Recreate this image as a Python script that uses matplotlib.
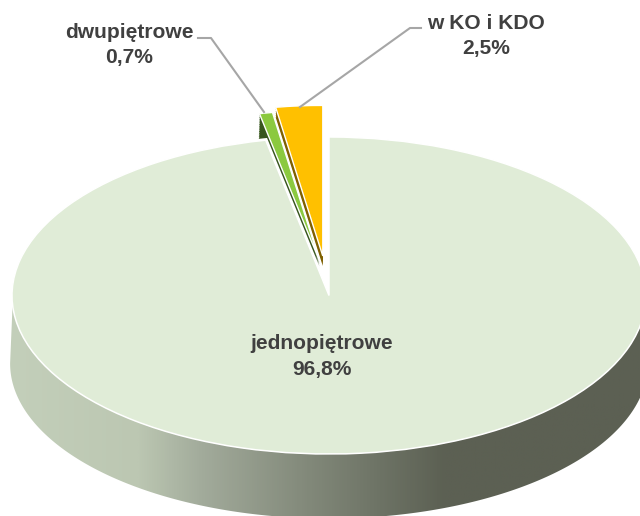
#!/usr/bin/python3

import matplotlib
matplotlib.use("Agg")
import matplotlib.pyplot as plt
import numpy as np
from matplotlib.colors import LinearSegmentedColormap
from matplotlib.patches import Polygon

labels = ["jednopiętrowe", "dwupiętrowe", "w KO i KDO"]
values = [96.8, 0.7, 2.5]
top_colors = ["#e0ecd7", "#8bc93f", "#ffc000"]
wall_colors = ["#5c6053", "#37561d", "#7f6000"]
explode = [0, 0.22, 0.25]

W, H = 640, 516
# os x: 317 px na promien, os y: 158.5 px na promien (spłaszczenie 3D)
RX, RY = 317, 158.5
CX, CY = 329, 295.5
DEPTH = 68 / RY
YELLOW_DEPTH = 10 / RY
SMALL_R = 0.95
TEXT = "#404040"
LEADER = "#a6a6a6"


def fx(x):
    return x / W


def fy(y):
    return 1 - y / H


def draw_pie(ax, colors, center=(0, 0), zorder=1, **wedgeprops):
    wedges, _ = ax.pie(values, explode=explode, colors=colors, startangle=90,
                       counterclock=False, center=center, wedgeprops=wedgeprops)
    for w in wedges[1:]:
        w.set_radius(SMALL_R)
    # zielony wycinek jest odsuniety troche inaczej niz w polowie kata
    c = wedges[1].center
    wedges[1].set_center((c[0] + 3 / RX, c[1]))
    for w in wedges:
        w.set_zorder(zorder)
    return wedges


def main():
    fig = plt.figure(figsize=(W / 100, H / 100), dpi=100)
    ax = fig.add_axes([0, 0, 1, 1])
    ax.axis("off")

    # sciany malych wycinkow, potem je przykrywa duzy wycinek
    for d in np.linspace(YELLOW_DEPTH, 0, 6):
        w = draw_pie(ax, wall_colors, center=(0, -d))
        w[0].set_visible(False)
        w[1].set_visible(False)
    for d in np.linspace(DEPTH, 0, 40):
        w = draw_pie(ax, wall_colors, center=(-2 / RX * d / DEPTH, -d))
        w[0].set_visible(False)
        w[2].set_visible(False)

    # gruba biala obwodka duzego wycinka, zweza widoczne sciany
    w = draw_pie(ax, ["white"] * 3, zorder=1.1, edgecolor="white", linewidth=3.0)
    w[1].set_visible(False)
    w[2].set_visible(False)

    # gorne sciany malych wycinkow
    w = draw_pie(ax, top_colors, zorder=1.2, edgecolor="white", linewidth=1.0)
    w[0].set_visible(False)

    # bok duzego wycinka z gradientem, dolna krawedz troche szersza i nizsza
    t = np.linspace(np.pi, 2 * np.pi, 200)
    t_top = np.linspace(np.pi + 0.06, 2 * np.pi - 0.06, 200)
    side_x = np.r_[np.cos(t) * 1.006, np.cos(t_top[::-1])]
    side_y = np.r_[np.sin(t) * 0.978 - DEPTH, np.sin(t_top[::-1])]
    side = Polygon(np.c_[side_x, side_y], closed=True, facecolor="none", edgecolor="none")
    ax.add_patch(side)
    cmap = LinearSegmentedColormap.from_list(
        "side", [(0, "#c3cfba"), (0.2, "#bcc7b2"), (0.3, "#a2ab9b"), (0.45, "#858c7d"),
                 (0.58, "#6d7365"), (0.68, "#5c6053"), (1, "#5c6053")])
    img = ax.imshow(np.linspace(0, 1, 512)[None, :], cmap=cmap, aspect="auto",
                    extent=(-1.01, 1.01, -1.5, 0.1), zorder=1.5)
    img.set_clip_path(side)

    # gorna sciana duzego wycinka
    w = draw_pie(ax, top_colors, zorder=2, edgecolor="white", linewidth=1.1)
    w[1].set_visible(False)
    w[2].set_visible(False)

    ax.set_aspect("auto")
    ax.set_xlim(-CX / RX, (W - CX) / RX)
    ax.set_ylim(-(H - CY) / RY, CY / RY)

    # linie odniesienia
    fig.add_artist(plt.Line2D([fx(198), fx(211), fx(264)], [fy(38), fy(38), fy(112)],
                              color=LEADER, lw=1.5))
    fig.add_artist(plt.Line2D([fx(421), fx(410), fx(300)], [fy(28), fy(28), fy(107)],
                              color=LEADER, lw=1.5))

    # etykiety
    places = [(322, 356.5), (129, 45), (486, 36)]
    for name, val, (x, y) in zip(labels, values, places):
        s = name + "\n" + f"{val:.1f}".replace(".", ",") + "%"
        fig.text(fx(x), fy(y), s, ha="center", va="center", family="Liberation Sans",
                 weight="bold", size=15.1, color=TEXT, linespacing=1.42)

    fig.savefig("out.png", dpi=100)


main()
